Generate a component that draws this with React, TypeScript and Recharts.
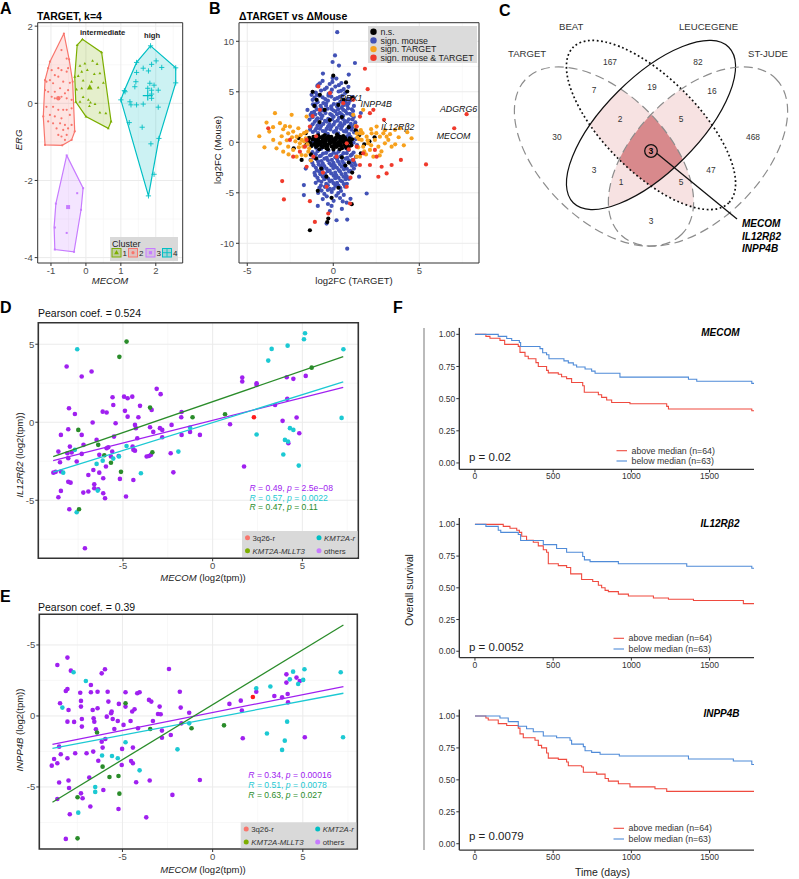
import React from 'react'
import {
  ScatterChart,
  Scatter,
  LineChart,
  Line,
  XAxis,
  YAxis,
  CartesianGrid,
  ReferenceArea,
} from 'recharts'

const FONT = '"Liberation Sans", Arial, Helvetica, sans-serif'

type P = [number, number][]
const pts = (a: P) => a.map(([x, y]) => ({ x, y }))
const km = (a: P) => a.map(([t, s]) => ({ t, s }))

// ---------- A: TARGET k-means clusters (MECOM vs ERG) ----------
const clusterColors = ['#7CAE00', '#F8766D', '#C77CFF', '#00BFC4']
const cluster1: P = [[-0.17, 0.97], [-0.03, 1.03], [0.19, 1.1], [0.32, 1.02], [-0.12, 0.82], [-0.22, 0.71], [0.04, 0.86], [0.24, 0.76], [0.4, 0.78], [-0.08, 0.59], [0.16, 0.56], [-0.27, 0.36], [-0.12, 0.39], [0.35, 0.41], [0.5, 0.53], [-0.08, 0.16], [0.07, 0.09], [0.13, 0.02], [-0.17, 0.04], [0.26, -0.02], [0.4, -0.24], [0.57, -0.26], [0.1, -0.07], [-0.25, 1.51], [-0.1, 1.66], [0.45, 1.32], [0.72, -0.47], [0.64, -0.65], [0.0, -0.34], [-0.29, 0.04], [-0.32, 0.69]]
const hull1: P = [[-0.25, 1.51], [-0.1, 1.66], [0.45, 1.32], [0.72, -0.47], [0.64, -0.65], [0.0, -0.34], [-0.29, 0.04], [-0.32, 0.69], [-0.25, 1.51]]
const cluster2: P = [[-1.08, 0.91], [-0.98, 0.86], [-0.79, 0.91], [-0.7, 0.86], [-0.51, 0.91], [-0.55, 0.82], [-0.89, 0.73], [-0.79, 0.69], [-1.13, 0.56], [-1.03, 0.6], [-0.94, 0.52], [-0.65, 0.56], [-0.46, 0.53], [-1.17, 0.34], [-1.08, 0.3], [-0.89, 0.3], [-0.74, 0.39], [-0.6, 0.26], [-0.51, 0.34], [-0.98, 0.17], [-0.89, 0.13], [-0.7, 0.17], [-0.55, 0.13], [-0.41, 0.09], [-1.13, -0.09], [-0.94, -0.09], [-0.79, -0.17], [-0.65, -0.17], [-0.55, -0.17], [-0.41, -0.13], [-1.03, -0.3], [-0.89, -0.34], [-0.7, -0.39], [-0.46, -0.3], [-1.08, -0.47], [-0.94, -0.52], [-0.74, -0.52], [-0.6, -0.56], [-0.41, -0.56], [-0.84, -0.65], [-0.65, -0.69], [-0.51, -0.65], [-0.79, -0.82], [-0.7, -0.86], [-0.55, -0.82], [-0.6, -0.95], [-0.7, 1.38], [-0.55, 1.16], [-0.63, 1.81], [-0.48, 1.14], [-0.38, 0.56], [-0.32, -0.73], [-0.41, -0.95], [-0.68, -1.09], [-1.17, -1.08], [-1.22, -0.34], [-1.17, 0.6], [-1.03, 1.08]]
const hull2: P = [[-0.63, 1.81], [-0.48, 1.14], [-0.38, 0.56], [-0.32, -0.73], [-0.41, -0.95], [-0.68, -1.09], [-1.17, -1.08], [-1.22, -0.34], [-1.17, 0.6], [-1.03, 1.08], [-0.63, 1.81]]
const cluster3: P = [[-0.25, -2.33], [-0.55, -3.36], [-0.89, -3.22], [-0.55, -1.35], [-0.08, -2.2], [-0.14, -2.76], [-0.34, -3.85], [-0.89, -3.79], [-0.86, -2.6]]
const hull3: P = [[-0.55, -1.35], [-0.08, -2.2], [-0.14, -2.76], [-0.34, -3.85], [-0.89, -3.79], [-0.91, -3.21], [-0.86, -2.6], [-0.55, -1.35]]
const cluster4: P = [[2.01, 1.1], [1.88, 1.01], [1.64, 0.91], [1.45, 0.8], [1.79, 0.84], [2.17, 0.93], [1.43, 0.56], [1.83, 0.52], [1.95, 0.47], [1.77, 0.39], [1.88, 0.34], [2.07, 0.34], [1.88, 0.24], [1.64, -0.02], [1.45, -0.04], [1.26, 0.04], [1.29, -0.04], [1.88, 0.13], [2.07, -0.1], [1.24, -0.5], [1.61, -0.62], [1.86, -1.05], [1.95, -1.84], [1.4, 0.43], [1.12, 0.3], [1.85, 1.49], [2.57, 0.92], [2.57, 0.53], [2.09, -0.91], [1.79, -2.4], [1.0, 0.09], [1.1, 0.33], [1.45, 1.06]]
const hull4: P = [[1.85, 1.49], [2.57, 0.92], [2.57, 0.53], [2.09, -0.91], [1.79, -2.4], [1.0, 0.09], [1.1, 0.33], [1.45, 1.06], [1.85, 1.49]]
const centroids: P = [[0.11, 0.41], [-0.79, 0.13], [-0.51, -2.69], [1.77, 0.2]]
const aDomX = [-1.38, 2.77]
const aDomY = [-4.14, 2.09]
const aTicksX = [-1, 0, 1, 2]
const aTicksY = [-4, -2, 0, 2]
const aMinorX = [-0.5, 0.5, 1.5, 2.5]
const aMinorY = [-3, -1, 1]

// ---------- B: log2FC TARGET vs mouse ----------
const bBlue: P = [[0.23, 10.9], [-0.04, 7.95], [0.33, 7.6], [1.26, 7.85], [-0.04, 6.36], [-0.87, 5.7], [-1.26, 4.7], [-1.71, -4.24], [-1.71, -5.23], [1.94, -5.07], [0.19, -7.72], [0.81, -7.65], [-0.39, -8.05], [0.81, -10.53], [-0.2, -6.8], [0.5, -6.6], [-0.9, -6.3], [1.0, -5.6], [-1.5, 3.2], [1.5, -3.4], [1.6, 2.9], [-1.6, -2.6], [0.1, 8.6], [-0.6, 6.8], [0.9, 6.7],
  [-0.62, 6.08], [0.18, 6.31], [0.47, 5.86], [-0.21, 5.77], [-0.93, 5.58], [-0.38, 5.41], [0.12, 5.52], [0.61, 5.27], [0.88, 5.49], [-1.02, 4.93], [-0.71, 5.12], [-0.27, 4.79], [0.31, 5.03], [0.69, 4.88], [-0.08, 5.21],
  [-1.09, 4.42], [-0.82, 4.61], [-0.47, 4.28], [-0.12, 4.53], [0.23, 4.37], [0.52, 4.62], [0.87, 4.31], [1.12, 4.48], [-0.91, 3.97], [-0.58, 3.88], [-0.31, 4.12], [0.03, 3.79], [0.41, 4.02], [0.72, 3.91], [0.98, 4.13], [-1.18, 3.76],
  [-1.03, 3.51], [-0.69, 3.38], [-0.42, 3.63], [-0.09, 3.29], [0.22, 3.54], [0.49, 3.41], [0.81, 3.62], [1.08, 3.27], [-1.11, 3.02], [-0.79, 2.88], [-0.52, 3.13], [-0.18, 2.79], [0.13, 3.04], [0.38, 2.91], [0.71, 3.08], [0.97, 2.82], [-1.32, 2.71],
  [-1.21, 2.48], [-0.92, 2.37], [-0.63, 2.61], [-0.29, 2.33], [0.02, 2.52], [0.33, 2.41], [0.58, 2.63], [0.91, 2.28], [1.19, 2.51], [-1.08, 2.03], [-0.81, 1.88], [-0.48, 2.12], [-0.22, 1.79], [0.09, 2.01], [0.42, 1.91], [0.68, 2.09], [1.02, 1.82], [1.28, 1.97],
  [-1.31, 1.52], [-0.98, 1.38], [-0.71, 1.61], [-0.39, 1.32], [-0.12, 1.53], [0.21, 1.41], [0.52, 1.62], [0.79, 1.29], [1.12, 1.51], [-1.19, 1.02], [-0.88, 0.91], [-0.61, 1.12], [-0.32, 0.83], [0.03, 1.04], [0.29, 0.88], [0.62, 1.09], [0.92, 0.81], [1.21, 0.98],
  [-1.42, 0.41], [-1.28, -0.38], [1.31, 0.32], [1.38, -0.29], [-1.18, 0.02], [1.18, -0.03], [-0.9, 0.55], [0.8, 0.6], [-0.7, -0.65], [0.75, -0.6], [-1.0, -0.55], [1.0, 0.55],
  [-1.21, -0.98], [-0.91, -0.88], [-0.59, -1.12], [-0.28, -0.81], [0.02, -1.03], [0.31, -0.92], [0.59, -1.08], [0.89, -0.79], [1.18, -1.01], [-1.12, -1.52], [-0.79, -1.38], [-0.51, -1.61], [-0.19, -1.29], [0.12, -1.49], [0.41, -1.41], [0.72, -1.62], [1.01, -1.31],
  [-1.22, -2.02], [-0.88, -1.89], [-0.61, -2.11], [-0.31, -1.78], [0.01, -2.03], [0.28, -1.91], [0.62, -2.09], [0.91, -1.81], [1.21, -1.98], [-1.01, -2.52], [-0.72, -2.38], [-0.39, -2.61], [-0.11, -2.29], [0.21, -2.52], [0.49, -2.41], [0.79, -2.62], [1.09, -2.31],
  [-1.09, -3.03], [-0.81, -2.91], [-0.49, -3.12], [-0.21, -2.79], [0.11, -3.01], [0.39, -2.88], [0.71, -3.11], [0.99, -2.82], [-0.92, -3.52], [-0.61, -3.39], [-0.29, -3.61], [0.02, -3.31], [0.31, -3.52], [0.59, -3.41], [0.91, -3.62],
  [-1.02, -4.01], [-0.69, -3.91], [-0.41, -4.12], [-0.09, -3.79], [0.22, -4.02], [0.51, -3.88], [0.79, -4.11], [-0.81, -4.52], [-0.49, -4.41], [-0.19, -4.62], [0.12, -4.31], [0.41, -4.52], [0.69, -4.39],
  [-0.88, -5.02], [-0.52, -5.11], [-0.09, -4.91], [0.29, -5.02], [0.61, -5.21], [-0.61, -5.62], [0.02, -5.79], [0.39, -5.52], [-0.31, -6.11], [0.78, -5.98],
  [-0.78, 5.83], [-0.05, 5.98], [0.32, 5.65], [-0.5, 5.25], [0.45, 5.1], [-0.15, 4.95], [-0.95, 4.68], [-0.62, 4.45], [-0.28, 4.62], [0.08, 4.27], [0.38, 4.5], [0.72, 4.15], [-1.2, 4.2],
  [-1.05, 3.75], [-0.74, 3.62], [-0.42, 3.86], [-0.12, 3.55], [0.24, 3.78], [0.58, 3.67], [0.88, 3.85], [1.2, 3.6], [-0.95, 3.26], [-0.65, 3.15], [-0.32, 3.32], [0.02, 3.15], [0.29, 3.27], [0.58, 3.2], [0.86, 3.35], [1.15, 3.1],
  [-1.25, 2.92], [-1.05, 2.75], [-0.72, 2.72], [-0.45, 2.89], [-0.08, 2.68], [0.22, 2.78], [0.49, 2.76], [0.8, 2.85], [1.08, 2.68], [-1.38, 2.25], [-0.98, 2.22], [-0.7, 2.35], [-0.38, 2.05], [-0.08, 2.28], [0.25, 2.15], [0.55, 2.32], [0.82, 2.05], [1.12, 2.26],
  [-1.2, 1.78], [-0.92, 1.65], [-0.58, 1.82], [-0.3, 1.58], [0.02, 1.75], [0.35, 1.66], [0.65, 1.85], [0.95, 1.6], [1.25, 1.72], [-1.35, 1.25], [-1.05, 1.18], [-0.78, 1.34], [-0.48, 1.08], [-0.18, 1.27], [0.15, 1.15], [0.45, 1.32], [0.75, 1.05], [1.05, 1.25], [1.35, 1.1],
  [-1.3, -1.25], [-1.02, -1.18], [-0.72, -1.33], [-0.42, -1.05], [-0.12, -1.25], [0.18, -1.16], [0.48, -1.35], [0.78, -1.08], [1.08, -1.22], [1.32, -1.45], [-1.32, -1.75], [-0.98, -1.66], [-0.68, -1.85], [-0.38, -1.55], [-0.08, -1.75], [0.22, -1.65], [0.52, -1.86], [0.82, -1.55], [1.12, -1.76],
  [-1.15, -2.28], [-0.85, -2.18], [-0.52, -2.35], [-0.22, -2.08], [0.08, -2.28], [0.38, -2.16], [0.68, -2.36], [0.98, -2.08], [1.3, -2.25], [-0.95, -2.78], [-0.62, -2.65], [-0.32, -2.86], [0.0, -2.55], [0.32, -2.75], [0.62, -2.68], [0.92, -2.88], [1.2, -2.6],
  [-1.05, -3.28], [-0.75, -3.16], [-0.42, -3.36], [-0.12, -3.08], [0.18, -3.28], [0.48, -3.15], [0.78, -3.38], [-0.85, -3.78], [-0.52, -3.65], [-0.2, -3.86], [0.12, -3.56], [0.42, -3.78], [0.72, -3.65],
  [-0.72, -4.28], [-0.32, -4.25], [0.02, -4.05], [0.3, -4.28], [0.62, -4.15], [-0.68, -4.78], [-0.32, -4.72], [0.02, -4.6], [0.45, -4.82], [-0.38, -5.35], [0.18, -5.28], [-0.1, -6.3], [0.55, -5.85]]
const bBlack: P = [[-1.21, 0.28], [-1.02, 0.08], [-0.91, -0.31], [-0.79, 0.49], [-0.71, 0.02], [-0.62, -0.48], [-0.52, 0.31], [-0.41, -0.19], [-0.29, 0.58], [-0.21, 0.09], [-0.09, -0.42], [0.02, 0.29], [0.11, -0.12], [0.19, 0.52], [0.31, -0.29], [0.42, 0.19], [0.51, -0.58], [0.61, 0.01], [0.69, 0.41], [0.79, -0.21], [0.91, 0.18], [-1.11, -0.18], [-0.81, -0.69], [-0.49, 0.71], [-0.31, -0.68], [0.01, -0.71], [0.22, 0.79], [0.38, -0.69], [0.58, 0.62], [0.88, -0.48], [1.01, -0.02], [-1.32, -0.08], [-0.61, 0.19], [-0.19, -0.11], [0.09, 0.12], [0.29, 0.02], [-0.39, 0.41], [0.49, 0.32], [-0.88, 0.69], [-1.45, 0.15], [-1.55, -0.2], [1.1, 0.3], [-0.5, -0.3], [0.2, -0.45], [-0.15, 0.35], [0.7, -0.4], [-0.95, 0.25], [0.4, 0.55], [-0.6, 0.6], [0.05, -0.25],
  [-1.4, 0.45], [-1.25, -0.35], [-1.15, 0.55], [-1.0, -0.45], [-0.85, 0.15], [-0.75, -0.25], [-0.65, 0.42], [-0.55, -0.05], [-0.45, 0.1], [-0.35, -0.45], [-0.25, 0.22], [-0.12, 0.55], [-0.05, 0.05], [0.05, -0.5], [0.15, 0.28], [0.25, -0.15], [0.35, 0.42], [0.45, -0.35], [0.55, 0.12], [0.65, -0.2], [0.75, 0.22], [0.85, -0.05], [0.95, 0.38], [1.05, -0.3], [-1.05, 0.38], [-0.68, -0.35], [-0.32, -0.28], [0.12, 0.38], [0.4, -0.12], [-0.8, 0.05], [-0.2, 0.45], [0.6, 0.35], [-0.95, -0.1], [0.3, 0.6], [-0.4, -0.6], [0.8, -0.6],
  [0.74, 5.93], [0.81, 5.03], [-1.36, -8.71], [-0.29, -7.55], [1.07, -6.13], [-1.84, -1.75], [-0.97, 4.2], [-0.78, 4.7], [-0.5, 3.2], [0.5, 2.5], [-0.8, 2.0], [0.9, 1.5], [-1.0, -1.6], [0.7, -2.3], [-0.4, -3.4], [0.3, -4.5], [1.1, -3.0], [-1.1, 3.6], [0.5, -1.5], [1.5, 0.7], [1.8, -0.2], [-1.6, 0.9], [-2.0, 0.4], [2.1, 0.1], [-0.9, -4.8], [0.6, 4.2], [-0.1, -5.5], [1.1, 4.4], [-1.2, 5.0], [-0.35, -7.9], [0.9, -2.0], [-1.3, -1.2], [1.3, 1.2], [0.3, 3.7], [-0.2, 2.2], [-0.7, -2.6], [1.6, -1.1], [-2.3, -0.6], [2.4, 0.5], [0.0, 6.6]]
const bOrange: P = [[-3.88, 1.95], [-3.72, 1.06], [-3.1, 1.89], [-2.91, 1.29], [-2.62, 0.89], [-2.52, 1.56], [-2.33, 1.06], [-2.13, 0.56], [-2.03, 1.39], [-1.94, -0.1], [-1.84, 0.23], [-1.74, -0.43], [-2.33, -0.76], [-2.62, -0.43], [-2.91, -0.93], [-2.13, -1.42], [-1.84, -1.26], [-1.55, 1.06], [-1.45, -0.93], [1.55, 0.89], [1.65, 0.23], [1.74, -0.43], [1.94, 0.56], [2.03, -0.1], [2.13, -0.76], [2.23, 0.89], [2.42, 0.23], [2.62, -0.43], [2.71, 0.56], [2.91, 0.89], [3.0, -0.1], [3.2, 0.23], [3.39, -0.43], [3.59, 1.23], [3.88, 1.39], [4.55, 0.4], [3.1, 0.56], [2.52, 1.56], [2.33, -1.42], [1.55, -1.42], [1.36, -1.42], [1.74, 3.21], [1.16, 2.72], [1.36, 0.89], [-3.39, 2.88], [-2.42, 2.72], [-1.55, 2.55], [-3.1, -0.1], [-3.49, 0.23], [-1.6, 0.4], [-1.5, -0.2], [1.5, 0.3], [1.8, -0.9], [1.45, -0.5], [2.8, -0.9], [-2.7, 0.2], [-1.7, 0.9], [2.2, 1.3], [1.3, 1.6], [-1.3, -1.8],
  [-4.3, 0.6], [-4.0, -0.5], [-3.5, 1.5], [-3.3, -0.6], [-2.8, 1.6], [-2.6, -1.2], [-2.2, 0.1], [-2.0, -0.5], [-1.9, 0.7], [-1.6, -1.3], [1.6, 1.2], [1.9, -1.2], [2.2, -0.3], [2.5, 0.9], [2.7, -1.3], [3.0, 1.2], [3.3, 0.8], [3.6, -0.2], [3.8, 0.5], [4.1, -0.3], [4.3, 1.0], [1.4, 0.5], [1.7, 0.9], [2.0, 0.2], [-1.4, -0.6], [-1.7, 0.1], [-2.4, 0.5], [-3.0, 0.6]]
const bRed: P = [[7.75, 2.78], [7.03, 1.39], [2.95, 2.22], [5.39, -2.19], [3.93, -1.75], [1.84, 7.28], [2.0, 5.26], [-3.78, 1.39], [-2.97, -3.84], [-2.87, -5.66], [-1.36, -5.83], [-1.07, -7.88], [-1.55, 0.23], [2.52, -1.42], [2.42, -0.76], [2.13, -2.25], [1.74, -1.09], [1.55, -2.25], [1.36, -0.43], [1.16, -1.75], [1.55, 2.55], [1.36, 1.56], [1.16, 4.2], [0.58, 3.87], [-0.78, 3.21], [-1.36, 1.56], [-1.65, -0.43], [-1.16, -1.42], [-1.55, -2.42], [-1.94, -0.93], [-0.39, -4.4], [0.78, -4.4], [0.97, -6.06], [-0.29, -7.05], [-2.33, -1.42], [-2.52, 0.23], [3.1, -3.08], [3.39, -2.25], [2.81, -2.42], [2.62, -3.41], [0.78, -0.1], [0.19, -1.42], [-0.19, 4.87], [-0.87, 5.53], [2.13, 2.88], [2.33, 3.21], [-1.2, 2.6], [-0.6, -3.0], [1.0, -3.5], [-1.0, 0.6], [0.9, -0.7]]
const bDomX = [-5.48, 8.47]
const bDomY = [-11.95, 11.84]
const bTicksX = [-5, 0, 5]
const bTicksY = [-10, -5, 0, 5, 10]
const bMinorX = [-2.5, 2.5, 7.5]
const bMinorY = [-7.5, -2.5, 2.5, 7.5]
const bLegend = ['n.s.', 'sign. mouse', 'sign. TARGET', 'sign. mouse & TARGET']
const bColors = ['#000000', '#4252B6', '#F7A11D', '#F03A2C']

// ---------- D: MECOM vs IL12Rβ2 ----------
const dKmt2a: P = [[-7.55, 4.68], [-8.33, -3.23], [-7.58, -5.77], [-6.47, -2.67], [-6.41, -4.38], [-6.13, -2.46], [-5.54, -2.33], [-5.22, -2.2], [-4.8, -1.52], [-4.0, -3.27], [-1.26, -0.34], [-1.91, -1.88], [2.45, -0.79], [3.1, 3.95], [3.29, 4.7], [4.18, 4.91], [5.15, 5.7], [5.09, 5.32], [7.29, 4.68], [7.19, 0.28], [3.94, -2.07], [4.03, -1.13], [4.31, -0.38], [4.5, -0.49], [4.8, -2.78], [4.2, -1.24], [-7.68, -1.77]]
const dMllt3: P = [[-4.8, 5.17], [-5.2, 4.19], [-7.49, -0.49], [-6.38, -1.45], [-6.04, -2.12], [-5.67, -2.6], [-5.11, -3.18], [-3.49, 0.94], [-3.36, -1.92], [-1.12, 0.32], [0.69, 0.51], [5.52, 3.5], [-7.45, -5.58]]
const d3q26: P = [[2.3, 0.32]]
const dOthers: P = [[-8.14, 3.57], [-6.75, 3.25], [-7.3, 2.93], [-8.01, 0.9], [-7.68, 0.53], [-8.05, -0.45], [-8.46, -0.81], [-7.3, -0.81], [-7.96, -1.56], [-7.2, -1.45], [-8.6, -1.88], [-8.1, -1.99], [-7.86, -1.94], [-7.3, -2.03], [-8.05, -2.3], [-8.51, -2.56], [-7.58, -2.52], [-6.93, -3.38], [-6.65, -3.06], [-8.88, -3.23], [-8.75, -3.18], [-8.46, -3.16], [-8.05, -3.82], [-7.92, -3.87], [-8.46, -4.4], [-8.6, -4.81], [-7.99, -5.58], [-7.21, -4.51], [-6.93, -4.44], [-6.6, -3.97], [-6.6, -4.23], [-6.38, -4.29], [-6.1, -4.55], [-6.0, -4.87], [-6.1, -3.59], [-5.95, -2.84], [-6.32, -3.23], [-6.32, -2.09], [-7.12, -8.08], [-6.69, -0.02], [-6.47, -1.13], [-5.91, -1.67], [-5.82, -1.6], [-5.67, -2.2], [-5.6, -1.88], [-5.58, 1.6], [-5.54, 1.11], [-6.13, 0.68], [-5.91, 0.62], [-5.41, -0.06], [-5.5, -0.92], [-5.24, -2.16], [-5.17, -3.63], [-4.94, 1.64], [-4.74, 1.54], [-4.89, 0.73], [-4.74, 0.36], [-4.83, -4.76], [-4.48, 1.64], [-4.33, -0.17], [-4.28, -0.38], [-4.14, 0.32], [-4.05, 1.05], [-4.2, -1.03], [-4.46, -1.56], [-4.42, -1.77], [-4.33, -1.82], [-4.42, -3.7], [-3.68, -2.2], [-3.55, -2.16], [-3.44, -2.09], [-3.49, -0.32], [-3.4, 0.79], [-3.31, -0.62], [-3.12, 2.14], [-2.9, 1.8], [-2.94, -0.38], [-2.81, -0.49], [-2.81, -0.96], [-2.29, -0.17], [-2.34, -1.99], [-2.19, -3.21], [-1.73, 0.66], [-1.75, 0.32], [-1.73, -0.81], [-1.26, -0.62], [-0.71, -0.81], [0.97, -0.13], [1.65, 2.86], [1.65, 2.61], [1.75, -2.84], [2.45, 2.5], [2.45, 2.39], [3.48, 1.11], [3.9, 0.09], [4.13, 2.88], [4.16, 1.5], [4.5, 2.78], [4.68, 0.3], [4.83, -0.71], [5.19, 2.97], [4.22, -1.35]]
const dFitOthers: P = [[-8.89, -2.46], [7.28, 2.24]]
const dFitKmt2a: P = [[-8.89, -3.2], [7.28, 2.58]]
const dFitMllt3: P = [[-8.89, -2.2], [7.28, 4.2]]
const dDomX = [-9.72, 8.12]
const dDomY = [-8.72, 6.38]

// ---------- E: MECOM vs INPP4B ----------
const eKmt2a: P = [[-7.71, 3.08], [-8.33, 0.59], [-7.03, 2.46], [-7.45, -6.81], [-6.51, -5.0], [-6.51, -5.35], [-6.13, -2.79], [-5.58, -2.82], [-5.26, -2.98], [-4.83, -1.85], [-4.05, -3.83], [-1.3, -0.52], [-1.95, -2.35], [2.42, 1.95], [3.2, 2.07], [3.01, -1.24], [3.85, -2.39], [4.0, -1.74], [4.13, -0.4], [4.28, 2.58], [4.46, 3.12], [4.74, 2.25], [5.02, 2.54], [5.09, 3.29], [7.1, 3.08], [7.23, -1.5]]
const eMllt3: P = [[-6.41, -1.17], [-6.1, -3.57], [-5.72, -4.3], [-5.22, -4.23], [-5.17, -5.47], [-7.49, -5.73], [-7.49, -8.62], [-4.83, 0.89], [-3.46, -0.92], [-1.17, -0.87], [0.63, -0.66]]
const e3q26: P = [[2.23, 1.34]]
const eOthers: P = [[-8.61, 3.59], [-8.05, 4.11], [-7.86, 3.19], [-8.14, 1.76], [-8.05, 1.9], [-8.46, 0.89], [-7.99, 0.42], [-8.05, -0.4], [-7.68, -0.42], [-7.34, 1.64], [-7.3, 1.06], [-7.3, 0.66], [-7.25, -0.21], [-7.25, -0.75], [-6.75, 2.18], [-6.75, 1.67], [-6.65, 0.42], [-6.6, -0.16], [-6.56, -0.4], [-6.47, -0.94], [-6.38, 0.54], [-6.38, 1.71], [-6.15, 3.0], [-5.97, 3.29], [-6.15, -1.81], [-6.1, -2.23], [-5.95, -1.62], [-5.87, -0.05], [-5.82, 1.71], [-5.78, 1.01], [-5.63, 0.19], [-5.6, 0.31], [-5.54, -0.21], [-5.45, -0.92], [-5.26, -0.35], [-5.2, 0.85], [-4.83, 1.67], [-4.83, 0.66], [-4.94, -0.63], [-5.02, -2.32], [-5.04, -3.45], [-4.55, -0.35], [-4.52, -3.17], [-4.42, -3.33], [-4.42, -2.23], [-4.46, 0.31], [-4.33, 0.47], [-4.24, -4.67], [-4.14, -0.87], [-4.18, 1.6], [-4.05, 1.67], [-3.53, 1.13], [-3.4, 1.01], [-3.31, -0.35], [-3.49, -4.55], [-3.68, -7.14], [-3.03, 0.14], [-2.88, 0.12], [-2.94, 0.66], [-2.81, -1.03], [-2.81, -1.53], [-2.42, 3.31], [-2.32, -1.34], [-2.23, -5.56], [-1.82, 1.71], [-1.77, 0.59], [-1.3, 0.23], [-1.73, -0.52], [-0.71, -4.51], [0.93, 0.85], [1.56, 1.08], [1.62, 0.38], [1.67, -1.57], [2.42, 1.71], [3.42, 1.41], [3.85, 1.31], [4.09, 2.93], [4.09, 2.35], [4.16, 1.55], [4.18, 0.96], [4.65, 2.7], [4.83, 2.46], [5.11, -1.5], [-8.14, -8.66], [-8.92, -3.5], [-8.79, -3.03], [-8.61, -3.33], [-8.51, -4.69], [-8.61, -5.85], [-8.42, -2.7], [-8.51, -2.16], [-8.05, -2.98], [-7.99, -4.55], [-7.96, -5.07], [-7.92, -6.92], [-7.62, -2.63], [-7.3, -5.45], [-7.21, -5.8], [-6.84, -4.34], [-6.99, -2.63], [-6.62, -2.51], [-6.34, -3.15], [-6.06, -5.21], [-6.78, -6.38], [-5.22, -6.55]]
const eFitOthers: P = [[-8.88, -2.0], [7.25, 2.07]]
const eFitKmt2a: P = [[-8.88, -2.28], [7.25, 1.6]]
const eFitMllt3: P = [[-8.88, -6.08], [7.25, 6.41]]
const eDomX = [-9.61, 8.02]
const eDomY = [-9.37, 7.16]
const eTickLabels = ['-5', '0', '-5']

const corTicks = [-5, 0, 5]
const corMinorX = [-7.5, -2.5, 2.5, 7.5]
const corMinorY = [-7.5, -2.5, 2.5]
const groupColors = { others: '#A020F0', kmt2a: '#1CC9D3', mllt3: '#2A8C2A', q26: '#FF1A1A' }
const groupKeyColors = ['#F8766D', '#00BFC4', '#7CAE00', '#C77CFF']

// ---------- F: Kaplan-Meier, above / below median ----------
const mecomAbove: P = [[0, 1], [70, 0.984], [96, 0.969], [160, 0.953], [190, 0.922], [277, 0.906], [288, 0.86], [320, 0.83], [341, 0.81], [390, 0.78], [405, 0.75], [458, 0.72], [469, 0.7], [533, 0.69], [554, 0.67], [586, 0.656], [618, 0.625], [689, 0.6], [699, 0.55], [789, 0.53], [810, 0.51], [842, 0.49], [874, 0.47], [991, 0.46], [1226, 0.44], [1237, 0.42], [1770, 0.406], [1790, 0.406]]
const mecomBelow: P = [[0, 1], [149, 0.984], [203, 0.968], [235, 0.952], [284, 0.936], [292, 0.905], [416, 0.889], [433, 0.857], [458, 0.841], [473, 0.81], [569, 0.794], [597, 0.778], [629, 0.762], [650, 0.746], [704, 0.73], [746, 0.714], [768, 0.698], [927, 0.667], [1365, 0.651], [1418, 0.635], [1770, 0.619], [1790, 0.619]]
const il12Above: P = [[0, 1], [181, 0.984], [224, 0.969], [267, 0.953], [284, 0.937], [299, 0.906], [330, 0.875], [373, 0.859], [405, 0.83], [437, 0.8], [458, 0.78], [469, 0.69], [533, 0.675], [586, 0.66], [612, 0.61], [682, 0.565], [753, 0.55], [789, 0.52], [810, 0.5], [832, 0.48], [853, 0.47], [917, 0.45], [981, 0.435], [1141, 0.42], [1237, 0.41], [1397, 0.4], [1716, 0.375], [1790, 0.375]]
const il12Below: P = [[0, 1], [70, 0.984], [149, 0.953], [165, 0.937], [277, 0.92], [292, 0.873], [437, 0.84], [522, 0.81], [586, 0.78], [689, 0.747], [700, 0.72], [736, 0.706], [917, 0.69], [1354, 0.67], [1770, 0.654], [1790, 0.654]]
const inppAbove: P = [[0, 1], [70, 0.984], [85, 0.969], [149, 0.94], [203, 0.925], [277, 0.905], [288, 0.86], [309, 0.83], [384, 0.81], [405, 0.77], [426, 0.75], [458, 0.71], [469, 0.67], [533, 0.66], [586, 0.64], [597, 0.61], [682, 0.6], [693, 0.56], [778, 0.545], [832, 0.51], [853, 0.49], [917, 0.47], [991, 0.445], [1151, 0.43], [1226, 0.41], [1790, 0.41]]
const inppBelow: P = [[0, 1], [160, 0.984], [213, 0.956], [277, 0.92], [330, 0.9], [373, 0.877], [437, 0.843], [522, 0.83], [608, 0.81], [618, 0.78], [693, 0.76], [704, 0.728], [746, 0.715], [800, 0.7], [923, 0.687], [1365, 0.663], [1652, 0.648], [1770, 0.62], [1790, 0.62]]
const kmDomX = [-100, 1784]
const kmDomY = [-0.05, 1.05]
const kmTicksX = [0, 500, 1000, 1500]
const kmTicksY = [0, 0.25, 0.5, 0.75, 1]
const kmGenes = ['MECOM', 'IL12Rβ2', 'INPP4B']
const kmPvalues = ['0.02', '0.0052', '0.0079']
const kmLegend = ['above median (n=64)', 'below median (n=63)']
const KM_RED = '#EF4A3F'
const KM_BLUE = '#4F8BD8'

// ---------- C: overlap of significant genes ----------
const vennSets = [
  { name: 'TARGET', cx: 604, cy: 156.5, rx: 110, ry: 63, rot: 45, stroke: '#8C8C8C', dash: '9 5', w: 1.2 },
  { name: 'BEAT', cx: 651, cy: 125, rx: 110, ry: 47, rot: 45, stroke: '#111', dash: '1.8 2.6', w: 1.7 },
  { name: 'LEUCEGENE', cx: 651, cy: 125, rx: 110, ry: 47, rot: -45, stroke: '#111', dash: undefined, w: 1.2 },
  { name: 'ST-JUDE', cx: 698, cy: 156.5, rx: 110, ry: 63, rot: -45, stroke: '#8C8C8C', dash: '9 5', w: 1.2 },
]
const vennLabelPos = [[508, 57], [559, 29.5], [679, 29.5], [748, 57]]
const vennCounts = [167, 82, 7, 19, 16, 30, 2, 5, 468, 3, 47, 1, 5, 3]
const vennCountPos = [[610, 62], [698, 62], [594, 90], [652, 87], [712, 91], [557, 137], [620, 119], [681, 119], [753, 137], [594, 170], [711, 170], [621, 182], [681, 182], [651, 221]]
const vennCore = 3
const coreGenes = ['MECOM', 'IL12Rβ2', 'INPP4B']

// ---------- shapes ----------
const noShape = () => <g />
const dot = (r: number, fill: string) => (p: any) => <circle cx={p.cx} cy={p.cy} r={r} fill={fill} />
const tri = (s: number, fill: string) => (p: any) => (
  <path d={`M${p.cx},${p.cy - s}L${p.cx + s * 0.9},${p.cy + s * 0.6}L${p.cx - s * 0.9},${p.cy + s * 0.6}Z`} fill={fill} />
)
const sq = (s: number, fill: string) => (p: any) => <rect x={p.cx - s} y={p.cy - s} width={2 * s} height={2 * s} fill={fill} />
const plus = (s: number, stroke: string, w = 0.9) => (p: any) => (
  <path d={`M${p.cx - s},${p.cy}H${p.cx + s}M${p.cx},${p.cy - s}V${p.cy + s}`} stroke={stroke} strokeWidth={w} />
)

const tickStyle = { fill: '#4D4D4D', fontSize: 9.5, fontFamily: FONT }

const grids = (minX: number[], minY: number[], majX: number[], majY: number[]) => [
  <CartesianGrid key="minor" stroke="#F4F4F4" strokeWidth={0.6} verticalValues={minX} horizontalValues={minY} />,
  <CartesianGrid key="major" stroke="#EBEBEB" strokeWidth={1} verticalValues={majX} horizontalValues={majY} />,
]
const frame = (dx: number[], dy: number[], w = 1) => (
  <ReferenceArea x1={dx[0]} x2={dx[1]} y1={dy[0]} y2={dy[1]} fill="none" stroke="#333" strokeWidth={w} ifOverflow="visible" />
)

function PanelA() {
  const hulls = [hull1, hull2, hull3, hull4]
  const members = [cluster1, cluster2, cluster3, cluster4]
  const small = [tri(1.6, clusterColors[0]), dot(1.1, clusterColors[1]), sq(1, clusterColors[2]), plus(2.6, clusterColors[3])]
  const big = [tri(3.2, clusterColors[0]), dot(2.2, clusterColors[1]), sq(2, clusterColors[2]), plus(5, clusterColors[3], 1.2)]
  return (
    <div style={{ position: 'absolute', left: 0, top: 0 }}>
      <ScatterChart width={190} height={300} margin={{ top: 22.7, right: 7.3, bottom: 0, left: 0 }}>
        {grids(aMinorX, aMinorY, aTicksX, aTicksY)}
        <XAxis type="number" dataKey="x" domain={aDomX} ticks={aTicksX} allowDataOverflow height={37} tickSize={3} tickMargin={1} axisLine={false} tickLine={{ stroke: '#333' }} tick={tickStyle} />
        <YAxis type="number" dataKey="y" domain={aDomY} ticks={aTicksY} allowDataOverflow width={37.7} tickSize={3} tickMargin={2} axisLine={false} tickLine={{ stroke: '#333' }} tick={tickStyle} />
        {hulls.map((h, i) => (
          <Scatter key={'h' + i} data={pts(h)} shape={noShape} line={{ stroke: clusterColors[i], strokeWidth: 1.2, fill: clusterColors[i], fillOpacity: 0.2 }} isAnimationActive={false} />
        ))}
        {members.map((m, i) => (
          <Scatter key={'m' + i} data={pts(m)} shape={small[i]} isAnimationActive={false} />
        ))}
        {centroids.map((c, i) => (
          <Scatter key={'c' + i} data={pts([c])} shape={big[i]} isAnimationActive={false} />
        ))}
        {frame(aDomX, aDomY)}
      </ScatterChart>
    </div>
  )
}

function PanelB() {
  const series = [bBlue, bBlack, bOrange, bRed]
  const colors = [bColors[1], bColors[0], bColors[2], bColors[3]]
  return (
    <div style={{ position: 'absolute', left: 200, top: 0 }}>
      <ScatterChart width={285} height={300} margin={{ top: 22.7, right: 6, bottom: 0, left: 0 }}>
        {grids(bMinorX, bMinorY, bTicksX, bTicksY)}
        <XAxis type="number" dataKey="x" domain={bDomX} ticks={bTicksX} allowDataOverflow height={37} tickSize={3} tickMargin={1} axisLine={false} tickLine={{ stroke: '#333' }} tick={tickStyle} />
        <YAxis type="number" dataKey="y" domain={bDomY} ticks={bTicksY} allowDataOverflow width={39} tickSize={3} tickMargin={2} axisLine={false} tickLine={{ stroke: '#333' }} tick={tickStyle} />
        {series.map((s, i) => (
          <Scatter key={i} data={pts(s)} shape={dot(2.1, colors[i])} isAnimationActive={false} />
        ))}
        {frame(bDomX, bDomY)}
      </ScatterChart>
    </div>
  )
}

function CorPanel(props: {
  top: number; height: number; marginTop: number; axisW: number; axisH: number; right: number
  domX: number[]; domY: number[]; others: P; kmt2a: P; mllt3: P; q26: P; fits: P[]; yLabels?: string[]
}) {
  const { domX, domY } = props
  const fmt = props.yLabels ? (v: number) => props.yLabels![corTicks.indexOf(v)] : undefined
  const fitColors = [groupColors.others, groupColors.kmt2a, groupColors.mllt3]
  return (
    <div style={{ position: 'absolute', left: 0, top: props.top }}>
      <ScatterChart width={370} height={props.height} margin={{ top: props.marginTop, right: props.right, bottom: 0, left: 0 }}>
        {grids(corMinorX, corMinorY, corTicks, corTicks)}
        <XAxis type="number" dataKey="x" domain={domX} ticks={corTicks} allowDataOverflow height={props.axisH} tickSize={3} tickMargin={1} axisLine={false} tickLine={{ stroke: '#333' }} tick={tickStyle} />
        <YAxis type="number" dataKey="y" domain={domY} ticks={corTicks} allowDataOverflow width={props.axisW} tickSize={3} tickMargin={1} axisLine={false} tickLine={{ stroke: '#333' }} tick={tickStyle} tickFormatter={fmt} />
        <Scatter data={pts(props.others)} shape={dot(2.3, groupColors.others)} isAnimationActive={false} />
        <Scatter data={pts(props.kmt2a)} shape={dot(2.3, groupColors.kmt2a)} isAnimationActive={false} />
        <Scatter data={pts(props.mllt3)} shape={dot(2.3, groupColors.mllt3)} isAnimationActive={false} />
        <Scatter data={pts(props.q26)} shape={dot(2.3, groupColors.q26)} isAnimationActive={false} />
        {props.fits.map((f, i) => (
          <Scatter key={'f' + i} data={pts(f)} shape={noShape} line={{ stroke: fitColors[i], strokeWidth: 1.3 }} isAnimationActive={false} />
        ))}
        {frame(domX, domY, 1.6)}
      </ScatterChart>
    </div>
  )
}

function KMPlot(props: { top: number; height: number; marginTop: number; above: P; below: P }) {
  const axisTick = { fill: '#333', fontSize: 8.5, fontFamily: FONT }
  return (
    <div style={{ position: 'absolute', left: 400, top: props.top }}>
      <LineChart width={399} height={props.height} margin={{ top: props.marginTop, right: 45, bottom: 0, left: 0 }}>
        <XAxis type="number" dataKey="t" domain={kmDomX} ticks={kmTicksX} allowDataOverflow height={30} tickSize={3} tickMargin={1} axisLine={{ stroke: '#333', strokeWidth: 1.4 }} tickLine={{ stroke: '#333' }} tick={axisTick} />
        <YAxis type="number" domain={kmDomY} ticks={kmTicksY} allowDataOverflow width={59.3} tickSize={3} tickMargin={1} axisLine={{ stroke: '#333', strokeWidth: 1.4 }} tickLine={{ stroke: '#333' }} tick={axisTick} tickFormatter={(v: number) => v.toFixed(2)} />
        <Line data={km(props.above)} dataKey="s" type="stepAfter" stroke={KM_RED} strokeWidth={1.1} dot={false} activeDot={false} isAnimationActive={false} />
        <Line data={km(props.below)} dataKey="s" type="stepAfter" stroke={KM_BLUE} strokeWidth={1.1} dot={false} activeDot={false} isAnimationActive={false} />
      </LineChart>
    </div>
  )
}

function CorLegend({ x, y }: { x: number; y: number }) {
  const items = [
    { label: '3q26-r', italic: false, dx: 5.5, dy: 6.7 },
    { label: 'KMT2A-r', italic: true, dx: 77, dy: 6.7 },
    { label: 'KMT2A-MLLT3', italic: true, dx: 5.5, dy: 19.7 },
    { label: 'others', italic: false, dx: 77, dy: 19.7 },
  ]
  return (
    <g>
      <rect x={x} y={y} width={115.5} height={26} fill="#D9D9D9" />
      {items.map((it, i) => (
        <g key={i}>
          <circle cx={x + it.dx} cy={y + it.dy} r={2.5} fill={groupKeyColors[i]} />
          <text x={x + it.dx + 5} y={y + it.dy + 2.8} fontSize={7.8} fill="#333" fontStyle={it.italic ? 'italic' : 'normal'}>{it.label}</text>
        </g>
      ))}
    </g>
  )
}

function CorStats({ x, y, rows }: { x: number; y: number; rows: [string, string, string][] }) {
  return (
    <g fontSize={8.6}>
      {rows.map(([r, p, c], i) => (
        <text key={i} x={x} y={y + i * 9.7} fill={c}>
          <tspan fontStyle="italic">R</tspan> = {r}, <tspan fontStyle="italic">p</tspan> = {p}
        </text>
      ))}
    </g>
  )
}

function Overlay() {
  const letters: [string, number, number][] = [['A', 0, 13.5], ['B', 209, 13.5], ['C', 499, 15.5], ['D', 0, 312.5], ['E', 0, 601.5], ['F', 393, 312.5]]
  const clip = (i: number) => `url(#venn${i})`
  const ell = (i: number, fill: string) => {
    const s = vennSets[i]
    return <ellipse cx={s.cx} cy={s.cy} rx={s.rx} ry={s.ry} transform={`rotate(${s.rot} ${s.cx} ${s.cy})`} fill={fill} />
  }
  const triples = [[0, 1, 2], [1, 2, 3], [0, 2, 3], [0, 1, 3]]
  const kmRows = [
    { geneY: 335.5, pY: 460.5, legY: [450.7, 461], legX: 631.5 },
    { geneY: 526.5, pY: 650.9, legY: [638.3, 649], legX: 628.5 },
    { geneY: 717, pY: 840, legY: [828.3, 839], legX: 628.5 },
  ]
  return (
    <svg width={799} height={879} style={{ position: 'absolute', left: 0, top: 0, pointerEvents: 'none' }} fontFamily={FONT}>
      <defs>
        {vennSets.map((s, i) => (
          <clipPath id={'venn' + i} key={i}>
            <ellipse cx={s.cx} cy={s.cy} rx={s.rx} ry={s.ry} transform={`rotate(${s.rot} ${s.cx} ${s.cy})`} />
          </clipPath>
        ))}
      </defs>
      {letters.map(([l, x, y]) => (
        <text key={l} x={x} y={y} fontSize={16} fontWeight="bold">{l}</text>
      ))}

      {/* A */}
      <text x={37} y={20} fontSize={10.5} fontWeight="bold">TARGET, k=4</text>
      <text x={80} y={35} fontSize={7.6} fontWeight="bold" fill="#222">intermediate</text>
      <text x={144} y={37.5} fontSize={7.6} fontWeight="bold" fill="#222">high</text>
      <text x={110} y={284} fontSize={9.5} fontStyle="italic" textAnchor="middle" fill="#222">MECOM</text>
      <text transform="translate(22,140) rotate(-90)" fontSize={9.5} fontStyle="italic" textAnchor="middle" fill="#222">ERG</text>
      <rect x={110} y={237} width={68} height={24} fill="#D9D9D9" />
      <text x={112} y={246.5} fontSize={9} fill="#222">Cluster</text>
      {[112, 128.5, 146, 162.5].map((kx, i) => {
        const c = clusterColors[i]
        const mx = kx + 4.5
        const my = 252.7
        return (
          <g key={i}>
            <rect x={kx} y={248.5} width={9} height={8.5} fill={c} fillOpacity={0.25} stroke={c} strokeWidth={1} />
            {i === 0 && <path d={`M${mx},${my - 2.6}L${mx + 2.4},${my + 1.6}L${mx - 2.4},${my + 1.6}Z`} fill={c} />}
            {i === 1 && <circle cx={mx} cy={my} r={1.6} fill={c} />}
            {i === 2 && <rect x={mx - 1.6} y={my - 1.6} width={3.2} height={3.2} fill={c} />}
            {i === 3 && <path d={`M${mx - 4},${my}H${mx + 4}M${mx},${my - 4}V${my + 4}`} stroke={c} strokeWidth={0.9} />}
            <text x={kx + 10.5} y={256} fontSize={8} fill="#222">{i + 1}</text>
          </g>
        )
      })}

      {/* B */}
      <text x={239} y={20} fontSize={10.5} fontWeight="bold">ΔTARGET vs ΔMouse</text>
      <text x={354} y={284} fontSize={9.5} textAnchor="middle" fill="#222">log2FC (TARGET)</text>
      <text transform="translate(221,150) rotate(-90)" fontSize={9.5} textAnchor="middle" fill="#222">log2FC (Mouse)</text>
      <rect x={368} y={26} width={109} height={37} fill="#D9D9D9" fillOpacity={0.95} />
      {bLegend.map((l, i) => (
        <g key={l}>
          <circle cx={373.5} cy={31.7 + i * 8.7} r={3.2} fill={bColors[i]} />
          <text x={380.5} y={34.8 + i * 8.7} fontSize={8.8} fill="#222">{l}</text>
        </g>
      ))}
      <g fontSize={8.8} fontStyle="italic" fill="#111">
        <text x={340} y={101}>PBX1</text>
        <text x={360.5} y={107.3}>INPP4B</text>
        <text x={381} y={130.3}>IL12Rβ2</text>
        <text x={440} y={112.3}>ADGRG6</text>
        <text x={436.7} y={139.3}>MECOM</text>
      </g>
      <line x1={383.5} y1={120.5} x2={387} y2={124} stroke="#111" strokeWidth={0.7} />

      {/* C */}
      {triples.map(([a, b, c], i) => (
        <g key={i} clipPath={clip(b)}>
          <g clipPath={clip(c)}>{ell(a, '#F7E2E2')}</g>
        </g>
      ))}
      <g clipPath={clip(1)}>
        <g clipPath={clip(2)}>
          <g clipPath={clip(3)}>{ell(0, '#D8898C')}</g>
        </g>
      </g>
      {vennSets.map((s, i) => (
        <ellipse key={i} cx={s.cx} cy={s.cy} rx={s.rx} ry={s.ry} transform={`rotate(${s.rot} ${s.cx} ${s.cy})`} fill="none" stroke={s.stroke} strokeWidth={s.w} strokeDasharray={s.dash} />
      ))}
      {vennSets.map((s, i) => (
        <text key={s.name} x={vennLabelPos[i][0]} y={vennLabelPos[i][1]} fontSize={9.6} fill="#333">{s.name}</text>
      ))}
      {vennCounts.map((n, i) => (
        <text key={i} x={vennCountPos[i][0]} y={vennCountPos[i][1] + 3} fontSize={8.4} textAnchor="middle" fill="#333">{n}</text>
      ))}
      <circle cx={651} cy={151} r={6.3} fill="none" stroke="#111" strokeWidth={1.3} />
      <text x={651} y={154.2} fontSize={8.6} fontWeight="bold" textAnchor="middle">{vennCore}</text>
      <line x1={657} y1={153.5} x2={737} y2={219} stroke="#111" strokeWidth={1.3} />
      {coreGenes.map((g, i) => (
        <text key={g} x={742} y={227 + i * 12.7} fontSize={10} fontWeight="bold" fontStyle="italic">{g}</text>
      ))}

      {/* D */}
      <text x={38} y={317} fontSize={10.5} fill="#111">Pearson coef. = 0.524</text>
      <text x={203} y={580.5} fontSize={9.5} textAnchor="middle" fill="#222"><tspan fontStyle="italic">MECOM</tspan> (log2(tpm))</text>
      <text transform="translate(22.5,455) rotate(-90)" fontSize={9.5} textAnchor="middle" fill="#222"><tspan fontStyle="italic">IL12Rβ2</tspan> (log2(tpm))</text>
      <CorStats x={249.5} y={491} rows={[['0.49', '2.5e−08', groupColors.others], ['0.57', '0.0022', groupColors.kmt2a], ['0.47', '0.11', groupColors.mllt3]]} />
      <CorLegend x={242} y={531} />

      {/* E */}
      <text x={38} y={610.5} fontSize={10.5} fill="#111">Pearson coef. = 0.39</text>
      <text x={203} y={873} fontSize={9.5} textAnchor="middle" fill="#222"><tspan fontStyle="italic">MECOM</tspan> (log2(tpm))</text>
      <text transform="translate(22.5,730) rotate(-90)" fontSize={9.5} textAnchor="middle" fill="#222"><tspan fontStyle="italic">INPP4B</tspan> (log2(tpm))</text>
      <CorStats x={248.3} y={778.3} rows={[['0.34', '0.00016', groupColors.others], ['0.51', '0.0078', groupColors.kmt2a], ['0.63', '0.027', groupColors.mllt3]]} />
      <CorLegend x={240.7} y={822.3} />

      {/* F */}
      <line x1={424} y1={328} x2={424} y2={850} stroke="#BBBBBB" strokeWidth={2} />
      <text transform="translate(413,590) rotate(-90)" fontSize={10.5} textAnchor="middle" fill="#222">Overall survival</text>
      <text x={602.5} y={876} fontSize={10.5} textAnchor="middle" fill="#222">Time (days)</text>
      {kmRows.map((r, i) => (
        <g key={i}>
          <text x={739.5} y={r.geneY} fontSize={10} fontWeight="bold" fontStyle="italic" textAnchor="end">{kmGenes[i]}</text>
          <text x={469} y={r.pY} fontSize={11.5} fill="#222">p = {kmPvalues[i]}</text>
          {kmLegend.map((l, j) => (
            <g key={l}>
              <line x1={r.legX - 15} x2={r.legX - 4.5} y1={r.legY[j]} y2={r.legY[j]} stroke={j === 0 ? KM_RED : KM_BLUE} strokeWidth={1.1} />
              <text x={r.legX} y={r.legY[j] + 3} fontSize={8.8} fill="#333">{l}</text>
            </g>
          ))}
        </g>
      ))}
    </svg>
  )
}

export default function App() {
  return (
    <div style={{ position: 'absolute', left: 0, top: 0, width: 799, height: 879, background: '#fff', fontFamily: FONT }}>
      <PanelA />
      <PanelB />
      <CorPanel top={300} height={290} marginTop={22.7} axisW={38.3} axisH={31.7} right={11.7} domX={dDomX} domY={dDomY}
        others={dOthers} kmt2a={dKmt2a} mllt3={dMllt3} q26={d3q26} fits={[dFitOthers, dFitKmt2a, dFitMllt3]} />
      <CorPanel top={585} height={294} marginTop={29.3} axisW={39.3} axisH={30} right={12.7} domX={eDomX} domY={eDomY}
        others={eOthers} kmt2a={eKmt2a} mllt3={eMllt3} q26={e3q26} fits={[eFitOthers, eFitKmt2a, eFitMllt3]} yLabels={eTickLabels} />
      <KMPlot top={300} height={199.4} marginTop={27.9} above={mecomAbove} below={mecomBelow} />
      <KMPlot top={490} height={197.6} marginTop={28} above={il12Above} below={il12Below} />
      <KMPlot top={680} height={200.1} marginTop={29.6} above={inppAbove} below={inppBelow} />
      <Overlay />
    </div>
  )
}
